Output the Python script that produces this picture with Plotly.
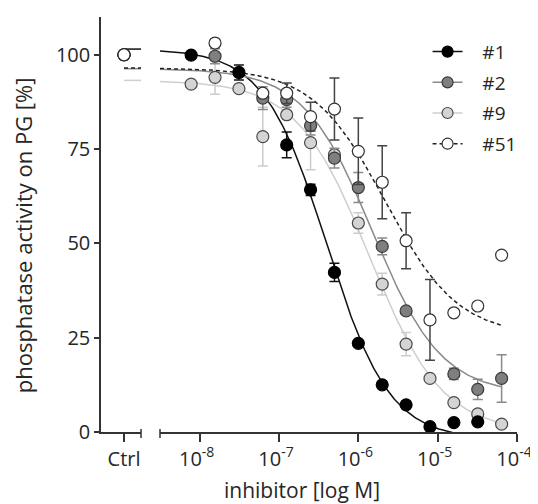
import numpy as np
import plotly.graph_objects as go

# ---------------- data ----------------
conc = [7.8125e-9, 1.5625e-8, 3.125e-8, 6.25e-8, 1.25e-7, 2.5e-7, 5e-7,
        1e-6, 2e-6, 4e-6, 8e-6, 1.6e-5, 3.2e-5, 6.4e-5]

names = ["#1", "#2", "#9", "#51"]

act_1 = [99.9, None, 95.3, None, 76.1, 64.2, 42.3, 23.5, 12.5, 7.2, 1.4, 2.5, 2.7, None]
err_1 = [0, 0, 2.0, 0, 3.4, 1.5, 2.4, 0, 0, 0, 0, 0, 0, 0]

act_2 = [None, 99.6, None, 88.5, 88.1, 81.2, 72.6, 64.8, 49.2, 32.1, None, 15.4, 11.3, 14.2]
err_2 = [0, 2.0, 0, 3.0, 2.0, 2.5, 2.6, 4.0, 2.2, 0, 0, 1.5, 2.7, 6.3]

act_9 = [92.2, 94.0, 91.0, 78.3, 84.1, 76.7, 73.5, 55.4, 39.2, 23.3, 14.2, 7.8, 4.8, 2.1]
err_9 = [0, 4.5, 0, 7.8, 0, 7.2, 0, 2.7, 2.9, 3.1, 0, 0, 0, 0]

act_51 = [None, 103.1, None, 89.8, 89.8, 83.6, 85.6, 74.4, 66.2, 50.7, 29.7, 31.6, 33.4, 46.9]
err_51 = [0, 0, 0, 0, 2.7, 3.8, 8.2, 8.8, 9.7, 7.4, 10.7, 0, 0, 0]

ctrl_label = ["Ctrl"]
ctrl_value = [100, 100, 100, 100]

# four-parameter logistic fit parameters (top, bottom, IC50, Hill)
fit_top = [101.5, 96.3, 93.2, 96.5]
fit_bottom = [-2.0, 10.0, 0.0, 25.5]
fit_ic50 = [4.0e-7, 1.51e-6, 1.38e-6, 2.2e-6]
fit_hill = [1.1, 1.0, 0.95, 0.95]

xtick_vals = [1e-8, 1e-7, 1e-6, 1e-5, 1e-4]
xtick_text = ["10<sup>-8</sup>", "10<sup>-7</sup>", "10<sup>-6</sup>",
              "10<sup>-5</sup>", "10<sup>-4</sup>"]
ytick_vals = [0, 25, 50, 75, 100]

# ---------------- styles ----------------
acts = [act_1, act_2, act_9, act_51]
errs = [err_1, err_2, err_9, err_51]
fill = ["#000000", "#7f7f7f", "#d4d4d4", "#ffffff"]
edge = ["#000000", "#3a3a3a", "#4a4a4a", "#333333"]
linec = ["#111111", "#8a8a8a", "#cfcfcf", "#222222"]
lined = ["solid", "solid", "solid", "4px,3px"]
errc = ["#111111", "#8a8a8a", "#cccccc", "#444444"]
FONT = "Open Sans"
TXT = "#262626"
NB = "\u00a0\u00a0\u00a0"

fig = go.Figure()

xfit = np.logspace(-8.5, np.log10(6.4e-5), 300)
CTRL_X = 0.575

# fitted curves (drawn first)
for i in range(4):
    T, B, C, H = fit_top[i], fit_bottom[i], fit_ic50[i], fit_hill[i]
    yfit = B + (T - B) / (1 + (xfit / C) ** H)
    fig.add_trace(go.Scatter(x=xfit, y=yfit, mode="lines", xaxis="x2", yaxis="y",
                             line=dict(color=linec[i], width=1.5, dash=lined[i]),
                             showlegend=False, hoverinfo="skip"))
    # plateau indicated at the Ctrl segment
    fig.add_trace(go.Scatter(x=[CTRL_X, 1.0], y=[T, T], mode="lines", xaxis="x", yaxis="y",
                             line=dict(color=linec[i], width=1.5, dash=lined[i]),
                             showlegend=False, hoverinfo="skip", cliponaxis=False))

# data markers, drawn order: #9, #2, #1, #51
for i in [2, 1, 0, 3]:
    fig.add_trace(go.Scatter(
        x=conc, y=acts[i], mode="markers", xaxis="x2", yaxis="y",
        marker=dict(size=12, color=fill[i], line=dict(color=edge[i], width=1.2)),
        error_y=dict(type="data", array=errs[i], visible=True, color=errc[i],
                     thickness=1.5, width=5),
        showlegend=False, cliponaxis=False))
    fig.add_trace(go.Scatter(
        x=[CTRL_X], y=[ctrl_value[i]], mode="markers", xaxis="x", yaxis="y",
        marker=dict(size=12, color=fill[i], line=dict(color=edge[i], width=1.2)),
        showlegend=False, cliponaxis=False))

# legend entries
for i in range(4):
    fig.add_trace(go.Scatter(
        x=[None], y=[None], mode="lines+markers", name=NB + names[i], xaxis="x2", yaxis="y",
        legendgroup="g" + str(i),
        line=dict(color=linec[i], width=1.5, dash=lined[i]),
        marker=dict(size=11, color=fill[i], line=dict(color=edge[i], width=1.2))))

axis_common = dict(showline=True, linecolor="#333333", linewidth=1.5, ticks="outside",
                   tickcolor="#333333", tickwidth=1.5, showgrid=False, zeroline=False,
                   tickfont=dict(family=FONT, size=20, color=TXT))

# the page body adds an 8 px offset, so the figure is 8 px smaller
fig.update_layout(
    width=530, height=496,
    margin=dict(l=93, r=21, t=9, b=72, autoexpand=False),
    paper_bgcolor="white", plot_bgcolor="white",
    font=dict(family=FONT, color=TXT),
    xaxis=dict(domain=[0, 40 / 416], range=[0, 1], tickvals=[CTRL_X], ticktext=ctrl_label,
               ticklen=8, anchor="y", **axis_common),
    xaxis2=dict(domain=[59 / 416, 1], type="log", range=[-8.5, -4.0], tickvals=xtick_vals,
                ticktext=xtick_text, ticklen=8, anchor="y", ticklabelshift=-3,
                **axis_common),
    yaxis=dict(range=[0, 110], tickvals=ytick_vals, ticklen=5, anchor="x", **axis_common),
    legend=dict(x=0.785, y=0.962, xanchor="left", yanchor="top",
                font=dict(family=FONT, size=19, color=TXT),
                traceorder="grouped", tracegroupgap=3,
                bgcolor="rgba(0,0,0,0)"),
    annotations=[
        dict(text="inhibitor [log M]", xref="paper", yref="paper",
             x=0.483, y=0, yshift=-58, xanchor="center", yanchor="middle",
             showarrow=False, font=dict(family=FONT, size=21, color=TXT)),
        dict(text="phosphatase activity on PG [%]", xref="paper", yref="paper",
             x=(23 - 101) / 416, y=0.474, xanchor="center", yanchor="middle",
             textangle=-90, showarrow=False, font=dict(family=FONT, size=22, color=TXT)),
    ],
    shapes=[
        dict(type="line", xref="x domain", yref="paper", x0=1, x1=1,
             y0=-6 / 415, y1=3 / 415, line=dict(color="#333333", width=1.5)),
        dict(type="line", xref="x2 domain", yref="paper", x0=0, x1=0,
             y0=-6 / 415, y1=3 / 415, line=dict(color="#333333", width=1.5)),
    ],
)

fig.write_html("out.html")
